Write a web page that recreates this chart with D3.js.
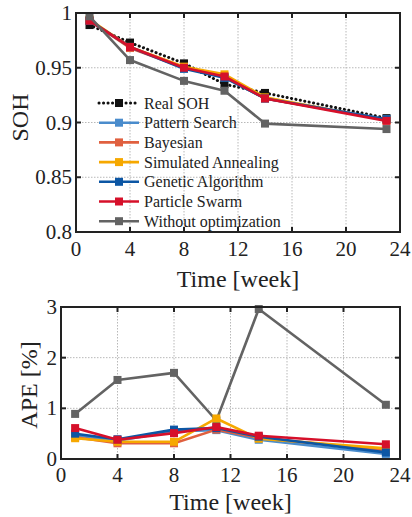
<!DOCTYPE html>
<html>
<head>
<meta charset="utf-8">
<script src="https://cdn.jsdelivr.net/npm/d3@7/dist/d3.min.js"></script>
<style>
  html, body { margin: 0; padding: 0; background: #fff; }
  svg { display: block; }
  text { font-family: "Liberation Serif", "Times New Roman", serif; fill: #222; }
</style>
</head>
<body>
<svg id="chart" width="412" height="517"></svg>
<script>
// Measurement weeks
const weeks = [1, 4, 8, 11, 14, 23];

// State of health: measured and estimated by each optimizer
const sohReal    = [0.989, 0.973, 0.954, 0.935, 0.927, 0.904];
const sohPattern = [0.993, 0.969, 0.950, 0.941, 0.922, 0.903];
const sohBayes   = [0.993, 0.968, 0.950, 0.942, 0.922, 0.9025];
const sohSA      = [0.994, 0.969, 0.951, 0.944, 0.923, 0.902];
const sohGA      = [0.993, 0.969, 0.949, 0.941, 0.922, 0.903];
const sohPSO     = [0.993, 0.969, 0.950, 0.942, 0.922, 0.9015];
const sohNone    = [0.997, 0.957, 0.938, 0.929, 0.899, 0.894];

// Absolute percentage error [%]
const apePattern = [0.47, 0.36, 0.55, 0.57, 0.38, 0.10];
const apeBayes   = [0.43, 0.31, 0.31, 0.58, 0.42, 0.17];
const apeSA      = [0.41, 0.34, 0.34, 0.80, 0.40, 0.21];
const apeGA      = [0.50, 0.39, 0.58, 0.61, 0.44, 0.13];
const apePSO     = [0.61, 0.38, 0.51, 0.63, 0.46, 0.29];
const apeNone    = [0.89, 1.56, 1.70, 0.76, 2.96, 1.07];

// Axis ticks
const xTicks = [0, 4, 8, 12, 16, 20, 24];
const sohTicks = [0.8, 0.85, 0.9, 0.95, 1];
const sohTickLabels = ["0.8", "0.85", "0.9", "0.95", "1"];
const apeTicks = [0, 1, 2, 3];
const apeTickLabels = ["0", "1", "2", "3"];

const seriesNames = ["Real SOH", "Pattern Search", "Bayesian", "Simulated Annealing",
                     "Genetic Algorithm", "Particle Swarm", "Without optimization"];
const seriesColors = ["#111111", "#4a8ccc", "#e0603f", "#f6a800", "#0c56a4", "#d6102a", "#636363"];

const svg = d3.select("#chart");

function panel(opts) {
  const { left, right, top, bottom, yDomain, yTicks, yLabels, yTitle, series } = opts;
  const x = d3.scaleLinear().domain([0, 24]).range([left, right]);
  const y = d3.scaleLinear().domain(yDomain).range([bottom, top]);
  const g = svg.append("g");

  // dotted grid
  const grid = g.append("g").attr("stroke", "#b8b8b8").attr("stroke-width", 1)
    .attr("stroke-dasharray", "1.5,1.5");
  xTicks.slice(1, -1).forEach(t => grid.append("line")
    .attr("x1", x(t)).attr("x2", x(t)).attr("y1", top).attr("y2", bottom));
  yTicks.slice(1, -1).forEach(t => grid.append("line")
    .attr("x1", left).attr("x2", right).attr("y1", y(t)).attr("y2", y(t)));

  // series
  const line = d3.line().x((d, i) => x(weeks[i])).y(d => y(d));
  series.forEach(s => {
    const sg = g.append("g");
    sg.append("path").datum(s.values)
      .attr("d", line).attr("fill", "none")
      .attr("stroke", s.color).attr("stroke-width", s.dotted ? 3 : 2.6)
      .attr("stroke-dasharray", s.dotted ? "0.1,4.4" : null)
      .attr("stroke-linecap", s.dotted ? "round" : "butt")
      .attr("stroke-linejoin", "round");
    const ms = 8;
    sg.selectAll("rect").data(s.values).join("rect")
      .attr("x", (d, i) => x(weeks[i]) - ms / 2)
      .attr("y", d => y(d) - ms / 2)
      .attr("width", ms).attr("height", ms)
      .attr("fill", s.color);
  });

  // box frame with inward ticks
  const frame = g.append("g").attr("stroke", "#222").attr("stroke-width", 2).attr("fill", "none");
  frame.append("rect").attr("x", left).attr("y", top)
    .attr("width", right - left).attr("height", bottom - top);
  const tl = 5;
  xTicks.slice(1, -1).forEach(t => {
    frame.append("line").attr("x1", x(t)).attr("x2", x(t)).attr("y1", bottom).attr("y2", bottom - tl);
    frame.append("line").attr("x1", x(t)).attr("x2", x(t)).attr("y1", top).attr("y2", top + tl);
  });
  yTicks.slice(1, -1).forEach(t => {
    frame.append("line").attr("x1", left).attr("x2", left + tl).attr("y1", y(t)).attr("y2", y(t));
    frame.append("line").attr("x1", right).attr("x2", right - tl).attr("y1", y(t)).attr("y2", y(t));
  });

  // tick labels
  xTicks.forEach(t => g.append("text")
    .attr("x", x(t)).attr("y", bottom + opts.xLabelDy)
    .attr("text-anchor", "middle").attr("font-size", 21).text(t));
  yTicks.forEach((t, i) => g.append("text")
    .attr("x", left - 4).attr("y", y(t) + 7)
    .attr("text-anchor", "end").attr("font-size", 21).text(yLabels[i]));

  // axis titles
  g.append("text").attr("x", (left + right) / 2 + opts.xTitleDx).attr("y", bottom + opts.xTitleDy)
    .attr("text-anchor", "middle").attr("font-size", 24).text("Time [week]");
  g.append("text")
    .attr("transform", `translate(${opts.yTitleX},${(top + bottom) / 2 + opts.yTitleDy}) rotate(-90)`)
    .attr("text-anchor", "middle").attr("font-size", 24).text(yTitle);

  return { x, y };
}

const sohValues = [sohReal, sohPattern, sohBayes, sohSA, sohGA, sohPSO, sohNone];
panel({
  left: 76, right: 400, top: 13, bottom: 232,
  yDomain: [0.8, 1], yTicks: sohTicks, yLabels: sohTickLabels, yTitle: "SOH",
  xLabelDy: 24, xTitleDy: 55, xTitleDx: 0, yTitleX: 28, yTitleDy: -5,
  series: sohValues.map((v, i) => ({ values: v, color: seriesColors[i], dotted: i === 0 }))
});

// legend inside the upper panel
const legend = svg.append("g");
seriesNames.forEach((name, i) => {
  const yy = 103 + i * 19.7;
  legend.append("line").attr("x1", 99).attr("x2", 139).attr("y1", yy).attr("y2", yy)
    .attr("stroke", seriesColors[i]).attr("stroke-width", i === 0 ? 3 : 2.6)
    .attr("stroke-dasharray", i === 0 ? "0.1,4.4" : null)
    .attr("stroke-linecap", i === 0 ? "round" : "butt");
  legend.append("rect").attr("x", 115).attr("y", yy - 4).attr("width", 8).attr("height", 8)
    .attr("fill", seriesColors[i]);
  legend.append("text").attr("x", 144).attr("y", yy + 5.5).attr("font-size", 16).text(name);
});

// lower panel: error series, uncorrected model drawn first
const apeValues = [apeNone, apePattern, apeBayes, apeSA, apeGA, apePSO];
const apeColors = [seriesColors[6], seriesColors[1], seriesColors[2], seriesColors[3], seriesColors[4], seriesColors[5]];
panel({
  left: 61, right: 400, top: 307, bottom: 459,
  yDomain: [0, 3], yTicks: apeTicks, yLabels: apeTickLabels, yTitle: "APE [%]",
  xLabelDy: 23, xTitleDy: 51, xTitleDx: 0, yTitleX: 37, yTitleDy: 2,
  series: apeValues.map((v, i) => ({ values: v, color: apeColors[i], dotted: false }))
});
</script>
</body>
</html>
